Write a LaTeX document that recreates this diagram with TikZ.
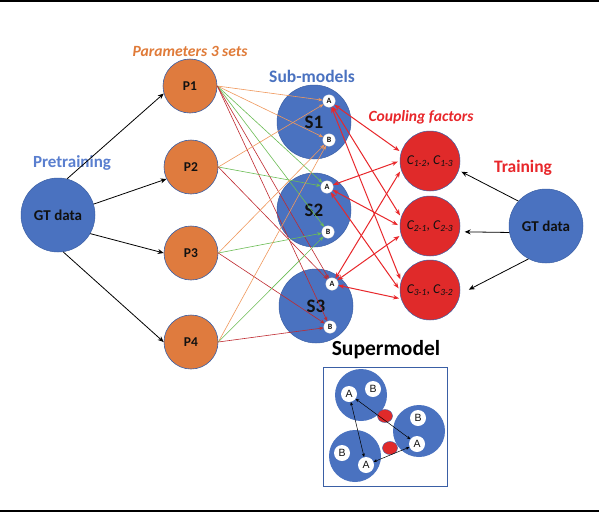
\documentclass[tikz,border=0pt]{standalone}
\usepackage{fontspec}
\setmainfont{Carlito}
\newfontfamily\arialfont{Liberation Sans}
\usetikzlibrary{arrows.meta,shapes.geometric}
\definecolor{mblue}{HTML}{4A72C0}
\definecolor{mborder}{HTML}{3A5FA5}
\definecolor{morange}{HTML}{DF7B3E}
\definecolor{mred}{HTML}{E02A2A}
\definecolor{lorange}{HTML}{F0985C}
\definecolor{lgreen}{HTML}{6CBD55}
\definecolor{dred}{HTML}{BF2A30}
\definecolor{cred}{HTML}{E8272B}
\definecolor{tblue}{HTML}{5A7FCF}
\definecolor{torange}{HTML}{E07B39}
\definecolor{ink}{HTML}{111111}
\tikzset{
  bigblue/.style={circle, fill=mblue, draw=mborder, line width=0.5pt, minimum size=74pt, inner sep=0pt, text=ink, font=\bfseries\fontsize{15}{15}\selectfont},
  subm/.style={bigblue, font=\bfseries\fontsize{19}{19}\selectfont},
  pnode/.style={circle, fill=morange, draw=mborder, line width=0.6pt, minimum size=54pt, inner sep=0pt, text=ink, font=\bfseries\fontsize{13.5}{13.5}\selectfont},
  abnode/.style={circle, fill=white, draw=white!85!black, line width=0.3pt, minimum size=12.5pt, inner sep=0pt, text=ink, font=\bfseries\fontsize{8}{8}\selectfont},
  cnode/.style={circle, fill=mred, draw=mborder, line width=0.5pt, minimum size=60pt, inner sep=0pt, text=ink, font=\itshape\fontsize{13.5}{14}\selectfont},
  smbig/.style={circle, fill=mblue, minimum size=52pt, inner sep=0pt},
  smab/.style={circle, fill=white, minimum size=16pt, inner sep=0pt, text=ink, font=\arialfont\fontsize{10.5}{10.5}\selectfont},
  smred/.style={ellipse, fill=mred, draw=mborder, line width=0.4pt, minimum width=15pt, minimum height=13pt, inner sep=0pt},
  plink/.style={line width=0.6pt, -{Stealth[length=4.5pt,width=3.5pt]}},
  clink/.style={cred, line width=1pt, {Stealth[length=6pt,width=4.5pt]}-{Stealth[length=6pt,width=4.5pt]}, shorten >=2pt},
  garrow/.style={black, line width=0.8pt, -{Stealth[length=6pt,width=5pt]}},
  smarrow/.style={black, line width=0.5pt, {Stealth[length=3.5pt,width=3pt]}-{Stealth[length=3.5pt,width=3pt]}},
  ttl/.style={inner sep=0pt, font=\bfseries\fontsize{#1}{#1}\selectfont},
  ttli/.style={inner sep=0pt, font=\bfseries\itshape\fontsize{#1}{#1}\selectfont}
}
\begin{document}
\begin{tikzpicture}[x=1pt,y=-1pt]
\useasboundingbox (0,0) rectangle (599,512);
\fill[white] (0,0) rectangle (599,512);
\draw[black, line width=1.5pt] (0,0.75) -- (599,0.75);
\draw[black, line width=1.5pt] (0,511.2) -- (599,511.2);

% titles
\node[ttl=17, text=tblue] (tpre) at (72,163) {Pretraining};
\node[ttli=15.6, text=torange] (tpar) at (190,51) {Parameters 3 sets};
\node[ttl=17.5, text=mblue] (tsub) at (312,76) {Sub-models};
\node[ttli=15.6, text=cred] (tcou) at (421,117) {Coupling factors};
\node[ttl=17.5, text=cred] (ttra) at (523,168) {Training};
\node[ttl=21.5, text=black] (tsup) at (386,350) {Supermodel};

% main nodes
\node[bigblue] (GTL) at (58,215) {GT data};
\node[bigblue] (GTR) at (546,226) {GT data};
\node[pnode] (P1) at (190,86) {P1};
\node[pnode] (P2) at (191,167) {P2};
\node[pnode] (P3) at (191,253) {P3};
\node[pnode] (P4) at (191,342) {P4};
\node[subm] (S1) at (314,122) {S1};
\node[subm] (S2) at (314,210) {S2};
\node[subm] (S3) at (316,306) {S3};
\node[abnode] (S1A) at (329,101) {A};
\node[abnode] (S1B) at (329,140) {B};
\node[abnode] (S2A) at (327,187) {A};
\node[abnode] (S2B) at (328,232) {B};
\node[abnode] (S3A) at (332,284) {A};
\node[abnode] (S3B) at (330,327) {B};
\node[cnode] (C1) at (430,161) {C\textsubscript{1-2}, C\textsubscript{1-3}};
\node[cnode] (C2) at (430,226) {C\textsubscript{2-1}, C\textsubscript{2-3}};
\node[cnode] (C3) at (430,290) {C\textsubscript{3-1}, C\textsubscript{3-2}};

% pretraining arrows
\draw[garrow] (GTL.76) -- (P1.196);
\draw[garrow] (GTL.17) -- (P2.206);
\draw[garrow] (GTL.330) -- (P3.180);
\draw[garrow] (GTL.278) -- (P4.180);

% training arrows
\draw[garrow, shorten >=3pt] (GTR.138) -- (C1.342);
\draw[garrow, shorten >=5pt] (GTR.190) -- (C2.349);
\draw[garrow, shorten >=10pt] (GTR.242) -- (C3.352);

% parameter links
\draw[plink, lorange] (P1.east) -- (S1A);
\draw[plink, lorange] (P1.east) -- (S1B);
\draw[plink, lgreen] (P1.east) -- (S2A);
\draw[plink, lgreen] (P1.east) -- (S2B);
\draw[plink, dred] (P1.east) -- (S3A);
\draw[plink, dred] (P1.east) -- (S3B);
\draw[plink, lorange] (P2.east) -- (S1A);
\draw[plink, lgreen] (P2.east) -- (S2A);
\draw[plink, dred] (P2.east) -- (S3A);
\draw[plink, lorange] (P3.east) -- (S1B);
\draw[plink, lgreen] (P3.east) -- (S2B);
\draw[plink, dred] (P3.east) -- (S3B);
\draw[plink, lorange] (P4.east) -- (S1B);
\draw[plink, lgreen] (P4.east) -- (S2B);
\draw[plink, dred] (P4.east) -- (S3B);

% coupling links
\draw[clink] (S1A) -- (C1.163);
\draw[clink] (S1A) -- (C2.163);
\draw[clink] (S1A) -- (C3.163);
\draw[clink] (S2A) -- (C1.180);
\draw[clink] (S2A) -- (C2.180);
\draw[clink] (S2A) -- (C3.180);
\draw[clink] (S3A) -- (C1.197);
\draw[clink] (S3A) -- (C2.197);
\draw[clink] (S3A) -- (C3.197);

% supermodel box
\draw[mborder, line width=0.8pt, fill=white] (323,367) rectangle (447,486);
\node[smbig] (M1) at (361,395) {};
\node[smbig] (M2) at (419,431) {};
\node[smbig] (M3) at (355,456) {};
\node[smab] (M1A) at (349,394) {A};
\node[smab] (M1B) at (373,389) {B};
\node[smab] (M2B) at (418,418) {B};
\node[smab] (M2A) at (417,444) {A};
\node[smab] (M3B) at (342,453) {B};
\node[smab] (M3A) at (366,465) {A};
\node[smred] (R1) at (385,416) {};
\node[smred] (R2) at (390,448) {};
\draw[smarrow] (M1A) -- (M3A);
\draw[smarrow] (M1A) -- (M2A);
\draw[smarrow] (M3A) -- (M2A);
\end{tikzpicture}
\end{document}
